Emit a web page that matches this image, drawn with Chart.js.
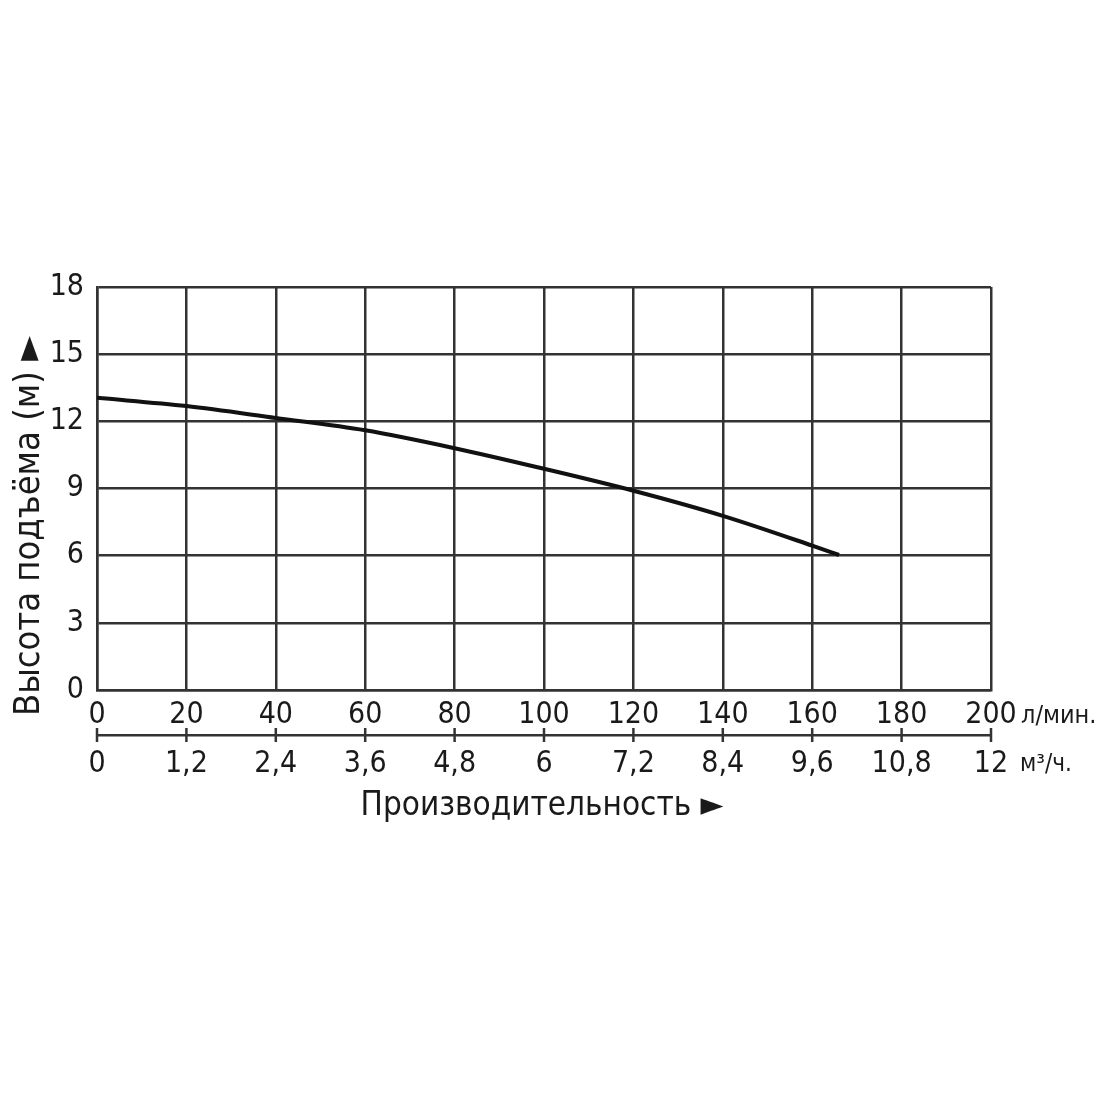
<!DOCTYPE html>
<html><head><meta charset="utf-8">
<script src="https://cdn.jsdelivr.net/npm/chart.js@4.4.1/dist/chart.umd.min.js"></script>
<style>html,body{margin:0;padding:0;background:#fff}#wrap{width:1100px;height:1100px}</style>
</head><body><div id="wrap"><canvas id="c" width="1100" height="1100"></canvas></div>
<script>
const flowLpm = [0, 20, 40, 60, 80, 100, 120, 140, 160, 166];
const headM = [13.05, 12.68, 12.15, 11.6, 10.8, 9.88, 8.9, 7.78, 6.45, 6.03];
const lpmTicks = ['0','20','40','60','80','100','120','140','160','180','200'];
const m3hTicks = ['0','1,2','2,4','3,6','4,8','6','7,2','8,4','9,6','10,8','12'];
const yTitle = 'Высота подъёма (м) ►';
const xTitle = 'Производительность ►';
const unit1 = 'л/мин.';
const unit2 = 'м³/ч.';

const FONT = '"DejaVu Sans Condensed","DejaVu Sans",sans-serif';
const GRID = '#333';
const TXT = '#1a1a1a';

const extras = {
  id: 'extras',
  afterDraw(chart) {
    const ctx = chart.ctx;
    const x2 = chart.scales.x2;
    ctx.save();
    ctx.strokeStyle = GRID;
    ctx.lineWidth = 2.5;
    x2.ticks.forEach((t) => {
      const px = x2.getPixelForValue(t.value);
      ctx.beginPath();
      ctx.moveTo(px, x2.top - 7);
      ctx.lineTo(px, x2.top + 7);
      ctx.stroke();
    });
    ctx.fillStyle = TXT;
    ctx.textBaseline = 'middle';
    ctx.textAlign = 'left';
    ctx.font = '25px ' + FONT;
    ctx.fillText(unit1, 1021, 716);
    ctx.font = '24px ' + FONT;
    ctx.fillText(unit2, 1020, 765);
    ctx.font = '33px ' + FONT;
    ctx.textAlign = 'center';
    ctx.fillText(xTitle, 542, 806);
    ctx.font = '36px ' + FONT;
    ctx.translate(30, 526);
    ctx.rotate(-Math.PI / 2);
    ctx.fillText(yTitle, 0, 0);
    ctx.restore();
  }
};

new Chart(document.getElementById('c'), {
  type: 'line',
  data: {
    datasets: [{
      data: flowLpm.map((x, i) => ({x, y: headM[i]})),
      borderColor: '#111',
      borderWidth: 4,
      pointRadius: 0,
      cubicInterpolationMode: 'monotone',
      fill: false
    }]
  },
  options: {
    responsive: false,
    animation: false,
    devicePixelRatio: 1,
    layout: {padding: {left: 0, right: 109, top: 287, bottom: 305}},
    plugins: {legend: {display: false}, tooltip: {enabled: false}},
    scales: {
      x: {
        type: 'linear', position: 'bottom', min: 0, max: 200,
        afterFit(s) { s.height = 45; },
        grid: {color: GRID, lineWidth: 2.5, drawTicks: false},
        border: {color: GRID, width: 2.5},
        ticks: {stepSize: 20, padding: 7, color: TXT, font: {family: FONT, size: 30},
          callback: (v) => lpmTicks[Math.round(v / 20)], maxRotation: 0, autoSkip: false}
      },
      x2: {
        type: 'linear', position: 'bottom', min: 0, max: 200,
        afterFit(s) { s.height = 60; },
        grid: {display: false, drawOnChartArea: false, drawTicks: false},
        border: {display: true, color: GRID, width: 2.5},
        ticks: {stepSize: 20, padding: 11, color: TXT, font: {family: FONT, size: 30},
          callback: (v) => m3hTicks[Math.round(v / 20)], maxRotation: 0, autoSkip: false}
      },
      y: {
        type: 'linear', min: 0, max: 18,
        afterFit(s) { s.width = 97; },
        grid: {color: GRID, lineWidth: 2.5, drawTicks: false},
        border: {color: GRID, width: 2.5},
        ticks: {stepSize: 3, padding: 13, color: TXT, font: {family: FONT, size: 30}}
      }
    }
  },
  plugins: [extras]
});
</script></body></html>
